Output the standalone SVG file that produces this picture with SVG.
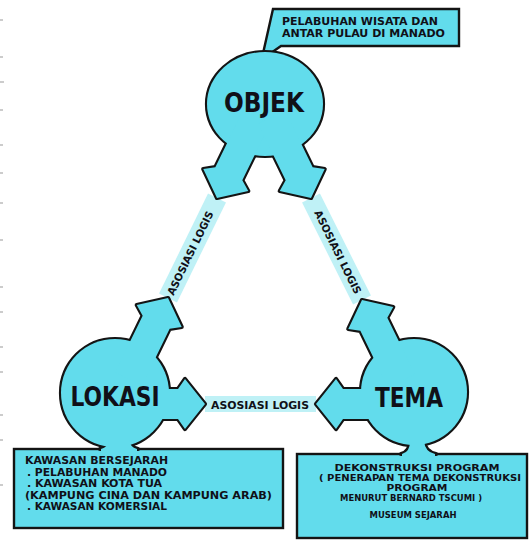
<svg xmlns="http://www.w3.org/2000/svg" width="529" height="546" viewBox="0 0 529 546">
<defs>
<style>
.st{fill:#62dcec;stroke:#141414;stroke-width:4.2;stroke-linejoin:round}
.fl{fill:#62dcec;stroke:none}
.box{fill:#62dcec;stroke:#141414;stroke-width:2.4}
.band{stroke:#bff1f6;fill:none}
.t{font-family:'DejaVu Sans Condensed','DejaVu Sans',sans-serif;font-weight:bold;fill:#101018}
.big{font-size:27px}
.sm{font-size:10px}
.xs{font-size:8.5px}
.cl{font-size:10.5px}
.bd{font-size:10.5px}
.tick{stroke:#999;stroke-width:1}
</style>
<path id="arr" d="M0,0 L-20,-25 L-27,-15 L-90,-15 L-90,15 L-27,15 L-20,25 Z"/>
</defs>
<rect width="529" height="546" fill="#fff"/>
<g id="edge-ticks">
<line class="tick" x1="0" y1="20" x2="3" y2="20"/><line class="tick" x1="0" y1="57" x2="3" y2="57"/>
<line class="tick" x1="0" y1="82" x2="4" y2="82"/><line class="tick" x1="0" y1="110" x2="3" y2="110"/>
<line class="tick" x1="0" y1="145" x2="3" y2="145"/><line class="tick" x1="0" y1="173" x2="3" y2="173"/>
<line class="tick" x1="0" y1="203" x2="3" y2="203"/><line class="tick" x1="0" y1="240" x2="3" y2="240"/>
<line class="tick" x1="0" y1="287" x2="3" y2="287"/><line class="tick" x1="0" y1="312" x2="3" y2="312"/>
<line class="tick" x1="0" y1="347" x2="3" y2="347"/><line class="tick" x1="0" y1="372" x2="3" y2="372"/>
<line class="tick" x1="0" y1="415" x2="3" y2="415"/><line class="tick" x1="0" y1="440" x2="3" y2="440"/>
<line class="tick" x1="0" y1="485" x2="3" y2="485"/>
</g>
<g id="connectors">
<line class="band" x1="217" y1="198" x2="168" y2="298" stroke-width="20"/>
<line class="band" x1="311" y1="198" x2="362" y2="300" stroke-width="20"/>
<line class="band" x1="205" y1="404" x2="316" y2="404" stroke-width="16"/>
<text class="t bd" transform="translate(190,253) rotate(-64)" text-anchor="middle" dominant-baseline="central" textLength="92" lengthAdjust="spacingAndGlyphs">ASOSIASI LOGIS</text>
<text class="t bd" transform="translate(338,252) rotate(63.5)" text-anchor="middle" dominant-baseline="central" textLength="92" lengthAdjust="spacingAndGlyphs">ASOSIASI LOGIS</text>
<text class="t bd" x="260" y="405" text-anchor="middle" dominant-baseline="central" textLength="98" lengthAdjust="spacingAndGlyphs">ASOSIASI LOGIS</text>
</g>
<g id="objek">
<polygon class="box" points="273,9 459,9 459,46 281,46 271,53 262,58"/>
<text class="t cl" x="282" y="24.5" textLength="156" lengthAdjust="spacingAndGlyphs">PELABUHAN WISATA DAN</text>
<text class="t cl" x="282" y="37" textLength="163" lengthAdjust="spacingAndGlyphs">ANTAR PULAU DI MANADO</text>
<ellipse class="st" cx="265" cy="104" rx="58" ry="52"/>
<use href="#arr" class="st" transform="translate(217,198) rotate(116)"/>
<use href="#arr" class="st" transform="translate(311,198) rotate(64)"/>
<ellipse class="fl" cx="265" cy="104" rx="58" ry="52"/>
<use href="#arr" class="fl" transform="translate(217,198) rotate(116)"/>
<use href="#arr" class="fl" transform="translate(311,198) rotate(64)"/>
<text class="t big" x="264" y="112" text-anchor="middle" textLength="80" lengthAdjust="spacingAndGlyphs">OBJEK</text>
</g>
<g id="lokasi">
<rect class="box" x="14" y="449" width="269" height="79"/>
<circle class="st" cx="115" cy="393" r="54"/>
<use href="#arr" class="st" transform="translate(168,298) rotate(-64)"/>
<use href="#arr" class="st" transform="translate(205,404)"/>
<path class="st" d="M100,449 Q108,447 109,440 L129,440 Q130,447 138,449 Z"/>
<circle class="fl" cx="115" cy="393" r="54"/>
<use href="#arr" class="fl" transform="translate(168,298) rotate(-64)"/>
<use href="#arr" class="fl" transform="translate(205,404)"/>
<path class="fl" d="M101,451 L101,449 Q108,447 109,440 L129,440 Q130,447 137,449 L137,451 Z"/>
<text class="t big" x="115" y="406" text-anchor="middle" textLength="89" lengthAdjust="spacingAndGlyphs">LOKASI</text>
<text class="t sm" x="25" y="464" textLength="143" lengthAdjust="spacingAndGlyphs">KAWASAN BERSEJARAH</text>
<text class="t sm" x="27" y="475.5" textLength="140" lengthAdjust="spacingAndGlyphs">. PELABUHAN MANADO</text>
<text class="t sm" x="27" y="487" textLength="135" lengthAdjust="spacingAndGlyphs">. KAWASAN KOTA TUA</text>
<text class="t sm" x="25" y="498.5" textLength="247" lengthAdjust="spacingAndGlyphs">(KAMPUNG CINA DAN KAMPUNG ARAB)</text>
<text class="t sm" x="27" y="510" textLength="140" lengthAdjust="spacingAndGlyphs">. KAWASAN KOMERSIAL</text>
</g>
<g id="tema">
<rect class="box" x="297" y="454" width="230" height="84"/>
<circle class="st" cx="414" cy="392" r="53"/>
<use href="#arr" class="st" transform="translate(362,300) rotate(-116)"/>
<use href="#arr" class="st" transform="translate(316,404) rotate(180)"/>
<path class="st" d="M401,454 Q410,452 410,441 L424,441 Q425,452 436,454 Z"/>
<circle class="fl" cx="414" cy="392" r="53"/>
<use href="#arr" class="fl" transform="translate(362,300) rotate(-116)"/>
<use href="#arr" class="fl" transform="translate(316,404) rotate(180)"/>
<path class="fl" d="M402,456 L402,454 Q410,452 410,441 L424,441 Q425,452 435,454 L435,456 Z"/>
<text class="t big" x="409" y="407" text-anchor="middle" textLength="68" lengthAdjust="spacingAndGlyphs">TEMA</text>
<text class="t xs" x="417" y="471" text-anchor="middle" textLength="165" lengthAdjust="spacingAndGlyphs">DEKONSTRUKSI PROGRAM</text>
<text class="t xs" x="420" y="481" text-anchor="middle" textLength="202" lengthAdjust="spacingAndGlyphs">( PENERAPAN TEMA DEKONSTRUKSI</text>
<text class="t xs" x="417" y="491" text-anchor="middle" textLength="61" lengthAdjust="spacingAndGlyphs">PROGRAM</text>
<text class="t xs" x="411" y="501" text-anchor="middle" textLength="142" lengthAdjust="spacingAndGlyphs">MENURUT BERNARD TSCUMI )</text>
<text class="t xs" x="413" y="518" text-anchor="middle" textLength="87" lengthAdjust="spacingAndGlyphs">MUSEUM SEJARAH</text>
</g>
</svg>
